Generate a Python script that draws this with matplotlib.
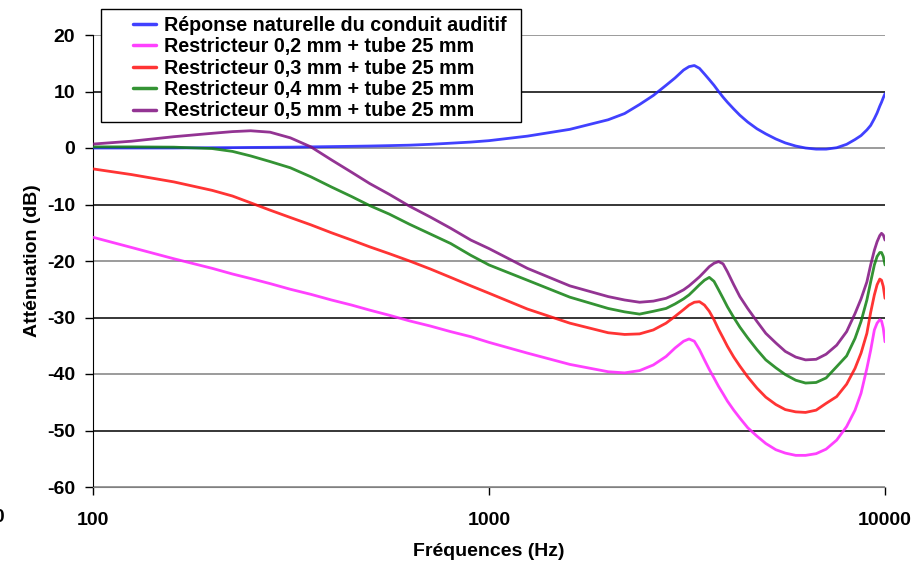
import matplotlib
matplotlib.use("Agg")
import matplotlib.pyplot as plt
from matplotlib.patches import Rectangle
from matplotlib.ticker import FixedLocator, NullLocator

plt.rcParams['font.family'] = ['Liberation Sans', 'DejaVu Sans']
plt.rcParams['font.weight'] = 'bold'
plt.rcParams['axes.unicode_minus'] = False

freq = [100, 125, 160, 200, 225, 250, 280, 315, 355, 400, 450, 500, 560, 630, 710, 800, 900,
        1000, 1250, 1600,
        2000, 2200, 2400, 2600, 2800, 2950,
        3100, 3200, 3300, 3400, 3500, 3600, 3700, 3800, 3900, 4000,
        4150, 4300, 4500, 4750, 5000, 5300, 5600, 5950, 6300, 6700, 7100, 7550,
        8000, 8400, 8700, 9000, 9200, 9400, 9550, 9700, 9800, 9900, 10000]

naturelle = [0.0, 0.0, 0.0, 0.05, 0.07, 0.1, 0.12, 0.15, 0.2, 0.25, 0.3, 0.35, 0.42, 0.5, 0.65,
             0.85, 1.05, 1.3, 2.1, 3.3,
             5.0, 6.1, 7.7, 9.3, 11.1, 12.4,
             13.8, 14.4, 14.6, 14.1, 13.1, 12.1, 11.1, 10.0, 9.0, 8.1,
             6.9, 5.8, 4.6, 3.4, 2.5, 1.6, 0.9, 0.35, 0.0, -0.2, -0.2, 0.05,
             0.65, 1.5, 2.2, 3.2, 4.0, 5.2, 6.2, 7.4, 8.1, 8.9, 9.6]

r02 = [-15.8, -17.6, -19.6, -21.3, -22.3, -23.1, -24.0, -25.0, -25.9, -26.9, -27.8, -28.7,
       -29.6, -30.6, -31.5, -32.5, -33.4, -34.4, -36.3, -38.3,
       -39.6, -39.8, -39.4, -38.4, -36.9, -35.4,
       -34.2, -33.8, -34.2, -35.7, -37.5, -39.2, -40.7, -42.2, -43.5, -44.8,
       -46.4, -47.8, -49.5, -51.0, -52.3, -53.4, -54.0, -54.4, -54.4, -54.1, -53.3, -51.7,
       -49.3, -46.4, -43.4, -39.0, -35.8, -32.2, -31.0, -30.4, -30.6, -31.9, -34.3]

r03 = [-3.7, -4.7, -6.0, -7.5, -8.5, -9.7, -11.0, -12.3, -13.6, -15.0, -16.3, -17.5, -18.7,
       -20.0, -21.4, -22.9, -24.4, -25.7, -28.5, -31.0,
       -32.7, -33.0, -32.9, -32.2, -31.0, -29.8,
       -28.6, -27.8, -27.3, -27.2, -27.8, -28.9, -30.4, -32.1, -33.6, -35.1,
       -37.0, -38.6, -40.5, -42.5, -44.1, -45.4, -46.3, -46.7, -46.8, -46.4, -45.2, -44.0,
       -41.8, -39.0, -36.3, -32.8, -29.1, -26.0, -24.2, -23.2, -23.4, -24.5, -26.6]

r04 = [0.2, 0.2, 0.15, -0.1, -0.6, -1.4, -2.4, -3.5, -5.1, -6.9, -8.6, -10.2, -11.7, -13.5,
       -15.2, -16.9, -19.0, -20.7, -23.4, -26.4,
       -28.4, -29.0, -29.4, -28.9, -28.4, -27.6,
       -26.7, -26.0, -25.1, -24.2, -23.4, -22.9, -23.6, -25.1, -26.6, -28.1,
       -30.0, -31.7, -33.6, -35.7, -37.5, -38.9, -40.1, -41.1, -41.6, -41.5, -40.7, -38.7,
       -36.8, -33.7, -30.7, -26.9, -23.7, -20.7, -19.2, -18.5, -18.5, -19.2, -20.7]

r05 = [0.7, 1.2, 2.0, 2.6, 2.9, 3.05, 2.8, 1.8, 0.2, -2.1, -4.3, -6.3, -8.2, -10.3, -12.2,
       -14.2, -16.3, -17.8, -21.3, -24.4,
       -26.3, -26.9, -27.3, -27.1, -26.6, -25.9,
       -25.1, -24.4, -23.6, -22.8, -21.9, -21.0, -20.4, -20.1, -20.5, -21.9,
       -24.2, -26.3, -28.4, -30.7, -32.8, -34.5, -36.0, -37.0, -37.5, -37.4, -36.5, -34.9,
       -32.5, -29.3, -26.7, -23.7, -20.7, -18.1, -16.6, -15.5, -15.1, -15.4, -16.3]

labels = ["Réponse naturelle du conduit auditif",
          "Restricteur 0,2 mm + tube 25 mm",
          "Restricteur 0,3 mm + tube 25 mm",
          "Restricteur 0,4 mm + tube 25 mm",
          "Restricteur 0,5 mm + tube 25 mm"]
colors = ["#2020ff", "#ff20ff", "#ff1010", "#108010", "#801080"]
series = [naturelle, r02, r03, r04, r05]

y_ticks = [-60, -50, -40, -30, -20, -10, 0, 10, 20]
x_ticks = [100, 1000, 10000]
x_ticklabels = ["100", "1000", "10000"]

W, H = 924, 563
fig = plt.figure(figsize=(W / 100, H / 100), dpi=100)
ax = fig.add_axes([93 / W, 1 - 487 / H, (885 - 93) / W, (487 - 35) / H])

for yt in y_ticks:
    col = "#808080" if yt % 20 == 0 else "#000000"
    ax.axhline(yt, color=col, lw=1.1, zorder=1)

handles = []
for vals, lab, col in zip(series, labels, colors):
    h, = ax.plot(freq, vals, color=col, lw=2.0, alpha=0.85, label=lab, zorder=3,
                 solid_capstyle='round', solid_joinstyle='round')
    handles.append(h)

ax.set_xscale('log')
ax.set_xlim(100, 10000)
ax.set_ylim(-60, 20)
ax.xaxis.set_major_locator(FixedLocator(x_ticks))
ax.xaxis.set_minor_locator(NullLocator())
ax.set_xticklabels(x_ticklabels)
ax.set_yticks(y_ticks)
ax.tick_params(axis='both', direction='out', length=6, width=1, labelsize=14, colors='black')
ax.tick_params(axis='y', pad=7)
ax.tick_params(axis='x', pad=12)
for s in ['top', 'right']:
    ax.spines[s].set_visible(False)
ax.spines['left'].set_color('black')
ax.spines['bottom'].set_color('#808080')
ax.set_xlabel("Fréquences (Hz)", fontsize=14, fontweight='bold', labelpad=10)
ax.set_ylabel("Atténuation (dB)", fontsize=14, fontweight='bold', labelpad=4)

# legend box
fig.patches.append(Rectangle((101 / W, 1 - 122 / H), (521 - 101) / W, (122 - 9) / H,
                             transform=fig.transFigure, facecolor='white',
                             edgecolor='black', lw=1.0, zorder=5))
leg = fig.legend(handles=handles, loc='upper left', bbox_to_anchor=(133 / W, 1 - 16 / H),
                 frameon=False, fontsize=14.2, handlelength=1.15, handletextpad=0.4,
                 labelspacing=0.12, borderpad=0, borderaxespad=0)
leg.set_zorder(6)
for t in leg.get_texts():
    t.set_fontweight('bold')
for lh in leg.legend_handles:
    lh.set_linewidth(2.5)

fig.text(5 / W, 1 - 517 / H, "10", ha='right', va='center', fontsize=14, fontweight='bold')

fig.savefig("out.png", dpi=100)
